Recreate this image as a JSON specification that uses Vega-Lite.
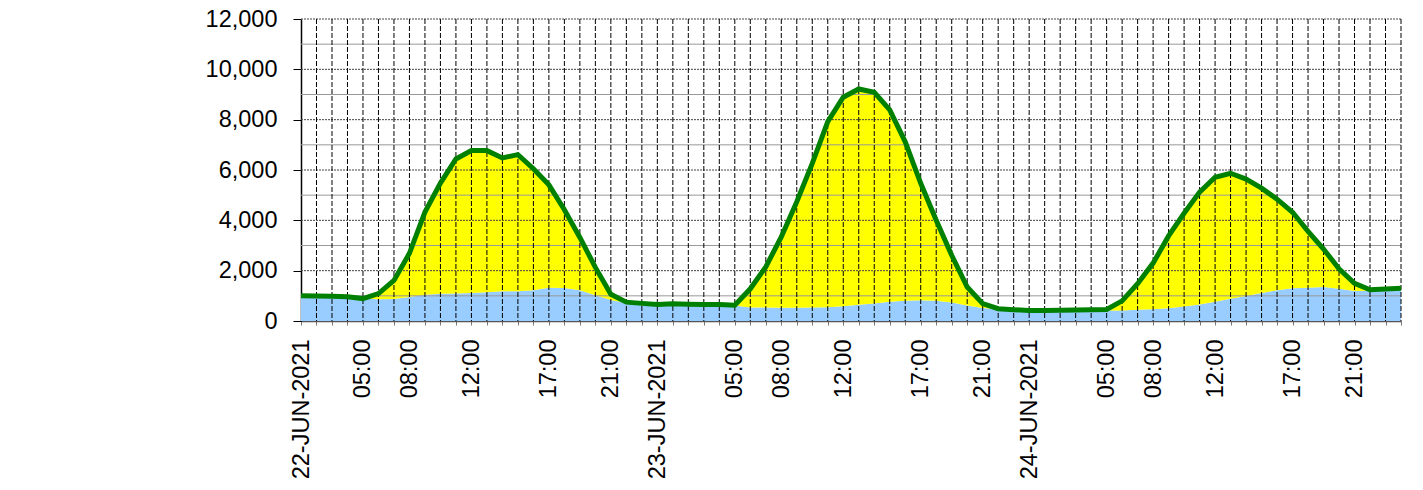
{
  "$schema": "https://vega.github.io/schema/vega-lite/v6.json",
  "width": 1100,
  "height": 302,
  "autosize": {"type": "none"},
  "padding": {"left": 301, "top": 19, "right": 22, "bottom": 169},
  "background": "white",
  "config": {"view": {"stroke": null}, "font": "Liberation Sans", "axis": {"labelOverlap": false, "labelFlush": false, "grid": false}},
  "datasets": {
    "load": [
      {"i":0,"total":1000,"base":1000},{"i":1,"total":990,"base":990},{"i":2,"total":980,"base":980},{"i":3,"total":960,"base":960},
      {"i":4,"total":890,"base":890},{"i":5,"total":1090,"base":860},{"i":6,"total":1610,"base":870},{"i":7,"total":2690,"base":950},
      {"i":8,"total":4330,"base":1040},{"i":9,"total":5480,"base":1080},{"i":10,"total":6440,"base":1090},{"i":11,"total":6770,"base":1110},
      {"i":12,"total":6770,"base":1140},{"i":13,"total":6480,"base":1180},{"i":14,"total":6610,"base":1180},{"i":15,"total":6050,"base":1220},
      {"i":16,"total":5410,"base":1320},{"i":17,"total":4420,"base":1310},{"i":18,"total":3320,"base":1220},{"i":19,"total":2130,"base":1020},
      {"i":20,"total":1060,"base":830},{"i":21,"total":750,"base":720},{"i":22,"total":700,"base":690},{"i":23,"total":660,"base":660},
      {"i":24,"total":690,"base":690},{"i":25,"total":670,"base":670},{"i":26,"total":660,"base":660},{"i":27,"total":660,"base":660},
      {"i":28,"total":630,"base":620},{"i":29,"total":1280,"base":540},{"i":30,"total":2150,"base":540},{"i":31,"total":3340,"base":530},
      {"i":32,"total":4740,"base":530},{"i":33,"total":6260,"base":540},{"i":34,"total":7920,"base":550},{"i":35,"total":8890,"base":590},
      {"i":36,"total":9220,"base":645},{"i":37,"total":9090,"base":700},{"i":38,"total":8390,"base":760},{"i":39,"total":7120,"base":800},
      {"i":40,"total":5470,"base":820},{"i":41,"total":4000,"base":800},{"i":42,"total":2610,"base":740},{"i":43,"total":1350,"base":620},
      {"i":44,"total":690,"base":520},{"i":45,"total":490,"base":480},{"i":46,"total":450,"base":450},{"i":47,"total":420,"base":420},
      {"i":48,"total":420,"base":420},{"i":49,"total":430,"base":430},{"i":50,"total":440,"base":440},{"i":51,"total":450,"base":450},
      {"i":52,"total":460,"base":420},{"i":53,"total":800,"base":420},{"i":54,"total":1480,"base":450},{"i":55,"total":2300,"base":470},
      {"i":56,"total":3380,"base":510},{"i":57,"total":4280,"base":580},{"i":58,"total":5120,"base":660},{"i":59,"total":5710,"base":760},
      {"i":60,"total":5870,"base":880},{"i":61,"total":5640,"base":990},{"i":62,"total":5280,"base":1110},{"i":63,"total":4840,"base":1220},
      {"i":64,"total":4320,"base":1300},{"i":65,"total":3560,"base":1320},{"i":66,"total":2860,"base":1350},{"i":67,"total":2070,"base":1280},
      {"i":68,"total":1500,"base":1190},{"i":69,"total":1240,"base":1200},{"i":70,"total":1270,"base":1270},{"i":71,"total":1300,"base":1300}
    ],
    "gridMajor": [{"v":2000},{"v":4000},{"v":6000},{"v":8000},{"v":10000},{"v":12000}],
    "gridMinor": [{"v":1000},{"v":3000},{"v":5000},{"v":7000},{"v":9000},{"v":11000}]
  },
  "encoding": {
    "x": {"field": "i", "type": "quantitative", "scale": {"domain": [0, 71], "nice": false, "zero": false},
      "axis": {
        "values": [0,1,2,3,4,5,6,7,8,9,10,11,12,13,14,15,16,17,18,19,20,21,22,23,24,25,26,27,28,29,30,31,32,33,34,35,36,37,38,39,40,41,42,43,44,45,46,47,48,49,50,51,52,53,54,55,56,57,58,59,60,61,62,63,64,65,66,67,68,69,70,71],
        "labelExpr": "datum.value==0?'22-JUN-2021':datum.value==23?'23-JUN-2021':datum.value==47?'24-JUN-2021':(datum.value==4||datum.value==28||datum.value==52)?'05:00':(datum.value==7||datum.value==31||datum.value==55)?'08:00':(datum.value==11||datum.value==35||datum.value==59)?'12:00':(datum.value==16||datum.value==40||datum.value==64)?'17:00':(datum.value==20||datum.value==44||datum.value==68)?'21:00':''",
        "labelAngle": 270, "labelFontSize": 23.5, "labelColor": "#000", "labelFont": "Liberation Sans",
        "labelOverlap": false, "labelFlush": false, "labelPadding": 14, "labelBound": false,
        "tickSize": 4, "tickColor": "#777", "domainColor": "#555", "domainWidth": 1.5,
        "grid": false, "title": null
      }
    }
  },
  "layer": [
    {
      "data": {"name": "load"},
      "mark": {"type": "area", "color": "#99CCFF", "interpolate": "linear"},
      "encoding": {
        "y": {"field": "base", "type": "quantitative", "scale": {"domain": [0, 12000], "nice": false},
          "axis": {
            "values": [0, 2000, 4000, 6000, 8000, 10000, 12000], "format": ",.0f",
            "labelFontSize": 23.5, "labelColor": "#000", "labelFont": "Liberation Sans", "labelPadding": 16,
            "tickSize": 8, "tickColor": "#000", "domainColor": "#000", "domainWidth": 1.5,
            "grid": false, "title": null
          }
        }
      }
    },
    {
      "data": {"name": "load"},
      "mark": {"type": "area", "color": "#FFFF00"},
      "encoding": {
        "y": {"field": "total", "type": "quantitative"},
        "y2": {"field": "base"}
      }
    },
    {
      "data": {"name": "gridMinor"},
      "mark": {"type": "rule", "color": "#999999", "strokeWidth": 1},
      "encoding": {"x": null, "y": {"field": "v", "type": "quantitative"}}
    },
    {
      "data": {"name": "gridMajor"},
      "mark": {"type": "rule", "color": "#444444", "strokeWidth": 1, "strokeDash": [2, 1]},
      "encoding": {"x": null, "y": {"field": "v", "type": "quantitative"}}
    },
    {
      "data": {"name": "load"},
      "transform": [{"filter": "datum.i > 0"}],
      "mark": {"type": "rule", "color": "#000000", "strokeWidth": 1, "strokeDash": [5, 2]},
      "encoding": {}
    },
    {
      "data": {"name": "load"},
      "mark": {"type": "line", "color": "#008000", "strokeWidth": 5},
      "encoding": {
        "y": {"field": "total", "type": "quantitative"}
      }
    }
  ]
}
